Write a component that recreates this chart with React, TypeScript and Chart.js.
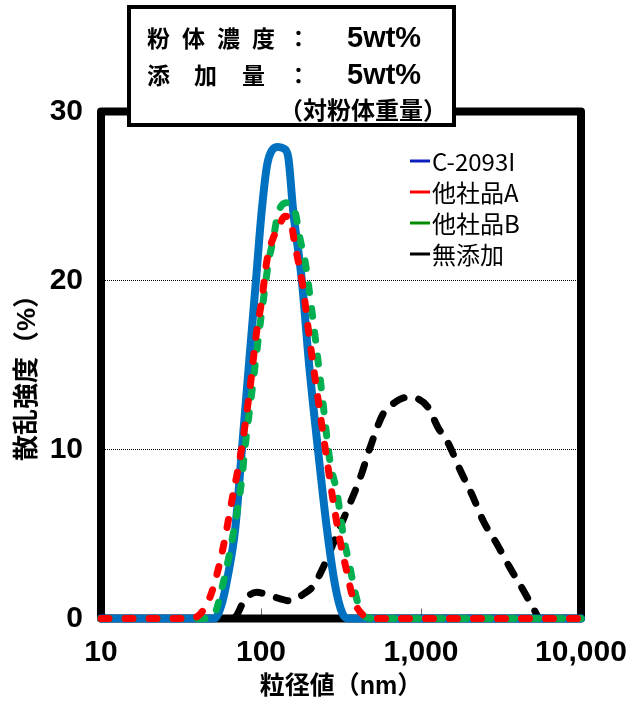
import React, { useEffect, useRef } from 'react';
import { Chart, registerables } from 'chart.js';

Chart.register(...registerables);

// ---------- data ----------
const xTickValues = [10, 100, 1000, 10000];
const xTickLabels = ['10', '100', '1,000', '10,000'];
const innerTickValues = [100, 1000];
const yTickStep = 10;
const yMin = 0;
const yMax = 30;
const yGridValues = [10, 20];

const seriesLabels = ['C-2093I', '他社品A', '他社品B', '無添加'];

const sizesC2093I = [10, 51, 57, 62, 69, 76, 84, 93, 101, 109, 117, 128, 139, 148, 159, 180, 200, 227, 259, 290, 321, 350, 10000];
const intensityC2093I = [0, 0, 0.9, 2.5, 5.3, 10, 15, 20, 24.1, 26.8, 27.7, 27.9, 27.8, 27.3, 24.1, 20, 15, 10, 5.2, 2.0, 0.35, 0, 0];

const sizesA = [10, 36, 42, 49, 58, 67, 74, 85, 94, 101, 109, 119, 128, 141, 152, 163, 183, 197, 224, 259, 282, 312, 345, 376, 434, 494, 10000];
const intensityA = [0, 0, 0.3, 1.5, 4.2, 7.4, 9.5, 13.5, 17.0, 18.8, 21.2, 22.5, 23.1, 23.8, 23.6, 22.1, 19.6, 17.2, 13.4, 9.3, 7.0, 4.6, 2.7, 1.2, 0.2, 0, 0];

const sizesB = [10, 45, 50, 58, 67, 76, 79, 89, 99, 106, 111, 119, 128, 145, 163, 175, 188, 208, 237, 270, 299, 326, 360, 398, 447, 516, 10000];
const intensityB = [0, 0, 0.1, 2.1, 5.0, 8.3, 9.9, 13.9, 17.5, 19.6, 21.0, 22.4, 24.0, 24.6, 24.1, 22.5, 21.2, 18.2, 13.8, 9.3, 7.4, 5.0, 3.0, 1.1, 0.1, 0, 0];

const sizesNone = [10, 62, 69, 79, 94, 114, 152, 188, 211, 244, 299, 345, 416, 480, 579, 668, 830, 957, 1106, 1277, 1475, 1753, 2113, 2441, 2985, 3597, 4340, 5012, 5546, 10000];
const intensityNone = [0, 0, 0.1, 1.1, 1.55, 1.35, 1.05, 1.5, 1.9, 3.0, 5.0, 6.4, 8.3, 10.1, 12.1, 12.7, 13.1, 13.0, 12.5, 11.3, 10.4, 8.8, 7.2, 5.8, 4.4, 3.0, 1.7, 0.65, 0, 0];

const boxRow1 = ['粉', '体', '濃', '度', '：'];
const boxRow2 = ['添', '加', '量', '：'];
const boxValue1 = '5wt%';
const boxValue2 = '5wt%';
const boxRow3 = '（対粉体重量）';

const xTitle = '粒径値（nm）';
const yTitle = '散乱強度（%）\u3000';

// ---------- styles ----------
const LATIN_BOLD = "'Liberation Sans', 'Noto Sans CJK JP', sans-serif";
const CJK = "'Noto Sans CJK JP', sans-serif";
const lineColors = ['#0070C0', '#FF0000', '#00B050', '#000000'];
const legendColors = ['#1020C0', '#FF0000', '#008A00', '#000000'];

const toPoints = (xs: number[], ys: number[]) => xs.map((x, i) => ({ x, y: ys[i] }));

const decorPlugin = {
  id: 'decor',
  beforeDatasetsDraw(chart: any) {
    const { ctx, chartArea: a, scales } = chart;
    ctx.save();
    ctx.strokeStyle = '#666';
    ctx.lineWidth = 1;
    for (const v of innerTickValues) {
      const x = Math.round(scales.x.getPixelForValue(v)) + 0.5;
      ctx.beginPath();
      ctx.moveTo(x, a.bottom - 10);
      ctx.lineTo(x, a.bottom - 3);
      ctx.stroke();
    }
    ctx.lineWidth = 8;
    ctx.strokeStyle = '#000';
    ctx.lineJoin = 'round';
    ctx.strokeRect(a.left, a.top, a.right - a.left, a.bottom - a.top);
    ctx.restore();
  },
  afterDraw(chart: any) {
    const { ctx } = chart;
    ctx.save();
    // legend
    const legendRows = [161, 192, 223, 254];
    ctx.font = `24px ${CJK}`;
    ctx.textBaseline = 'middle';
    ctx.textAlign = 'left';
    seriesLabels.forEach((label, i) => {
      const y = legendRows[i];
      ctx.strokeStyle = legendColors[i];
      ctx.lineWidth = 3;
      ctx.beginPath();
      ctx.moveTo(410, y);
      ctx.lineTo(430, y);
      ctx.stroke();
      ctx.fillStyle = '#000';
      ctx.fillText(label, 432, y + 1);
    });

    // condition box
    ctx.fillStyle = '#fff';
    ctx.fillRect(127, 5, 329, 122);
    ctx.strokeStyle = '#000';
    ctx.lineWidth = 4;
    ctx.lineJoin = 'miter';
    ctx.strokeRect(129, 7, 325, 118);

    ctx.fillStyle = '#000';
    ctx.textBaseline = 'middle';
    ctx.font = `bold 23px ${CJK}`;
    const row1X = [147, 182, 217, 252, 287];
    boxRow1.forEach((c, i) => ctx.fillText(c, row1X[i], 38));
    const row2X = [147, 194, 242, 287];
    boxRow2.forEach((c, i) => ctx.fillText(c, row2X[i], 75));
    ctx.font = `bold 24px ${CJK}`;
    ctx.fillText(boxRow3, 279, 110);
    ctx.font = `bold 29px ${LATIN_BOLD}`;
    ctx.fillText(boxValue1, 347, 39);
    ctx.fillText(boxValue2, 347, 76);
    ctx.restore();
  },
};

export default function App() {
  const ref = useRef<HTMLCanvasElement>(null);

  useEffect(() => {
    const canvas = ref.current;
    if (!canvas) return;
    const common = {
      pointRadius: 0,
      pointHoverRadius: 0,
      fill: false,
      cubicInterpolationMode: 'monotone' as const,
      borderCapStyle: 'round' as const,
      borderJoinStyle: 'round' as const,
      clip: false as const,
    };
    const chart = new Chart(canvas, {
      type: 'line',
      data: {
        datasets: [
          { ...common, label: seriesLabels[1], data: toPoints(sizesA, intensityA), borderColor: lineColors[1], borderWidth: 7, borderDash: [8, 16], order: 0 },
          { ...common, label: seriesLabels[2], data: toPoints(sizesB, intensityB), borderColor: lineColors[2], borderWidth: 7, borderDash: [8, 16], order: 1 },
          { ...common, label: seriesLabels[0], data: toPoints(sizesC2093I, intensityC2093I), borderColor: lineColors[0], borderWidth: 8, order: 2 },
          { ...common, label: seriesLabels[3], data: toPoints(sizesNone, intensityNone), borderColor: lineColors[3], borderWidth: 7, borderDash: [12, 15], order: 3 },
        ],
      },
      options: {
        animation: false,
        responsive: false,
        devicePixelRatio: 1,
        events: [],
        layout: { padding: { top: 111.5, right: 46, left: 0, bottom: 0 } },
        plugins: {
          legend: { display: false },
          tooltip: { enabled: false },
          title: { display: false },
        },
        scales: {
          x: {
            type: 'logarithmic',
            min: 10,
            max: 10000,
            afterBuildTicks: (scale: any) => {
              scale.ticks = xTickValues.map((v) => ({ value: v }));
            },
            afterFit: (scale: any) => {
              scale.height = 84.5;
              scale.paddingLeft = 0;
              scale.paddingRight = 0;
            },
            grid: {
              display: true,
              drawOnChartArea: false,
              drawTicks: true,
              tickLength: 16,
              tickColor: 'rgba(0,0,0,0)',
              color: 'rgba(0,0,0,0)',
            },
            border: { display: false },
            ticks: {
              autoSkip: false,
              maxRotation: 0,
              minRotation: 0,
              padding: 0,
              color: '#000',
              font: { family: LATIN_BOLD, size: 30, weight: 'bold' },
              callback: (value: any) => {
                const i = xTickValues.indexOf(Number(value));
                return i >= 0 ? xTickLabels[i] : '';
              },
            },
            title: {
              display: true,
              text: xTitle,
              color: '#000',
              font: { family: LATIN_BOLD, size: 25, weight: 'bold' },
              padding: { top: 0, bottom: 1 },
            },
          },
          y: {
            type: 'linear',
            min: yMin,
            max: yMax,
            afterFit: (scale: any) => {
              scale.width = 101;
            },
            grid: {
              drawTicks: false,
              lineWidth: 1,
              color: (ctx: any) => (yGridValues.includes(ctx.tick?.value) ? '#000' : 'rgba(0,0,0,0)'),
            },
            border: { display: false, dash: [1, 1] },
            ticks: {
              stepSize: yTickStep,
              padding: 18,
              color: '#000',
              font: { family: LATIN_BOLD, size: 30, weight: 'bold' },
            },
            title: {
              display: true,
              text: yTitle,
              color: '#000',
              font: { family: LATIN_BOLD, size: 26, weight: 'bold' },
              padding: { top: 12, bottom: 0 },
            },
          },
        },
      },
      plugins: [decorPlugin],
    } as any);
    return () => chart.destroy();
  }, []);

  return (
    <div style={{ position: 'fixed', left: 0, top: 0, width: 627, height: 703, background: '#fff' }}>
      <canvas ref={ref} width={627} height={703} style={{ display: 'block', width: 627, height: 703 }} />
    </div>
  );
}
